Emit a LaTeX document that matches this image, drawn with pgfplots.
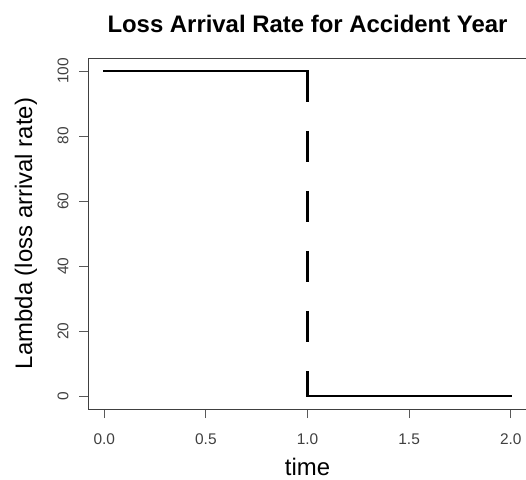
\documentclass[border=0pt]{standalone}
\usepackage{fontspec}
\setmainfont{Liberation Sans}
\usepackage{pgfplots}
\pgfplotsset{compat=1.18}

\begin{document}
\begin{tikzpicture}
% page frame
\path[use as bounding box] (0,0) rectangle (526bp,480bp);
\begin{axis}[
  at={(88bp,71bp)}, anchor=south west,
  scale only axis,
  width=439bp, height=351bp,
  xmin=-0.08, xmax=2.08,
  ymin=-4, ymax=104,
  xtick={0,0.5,1,1.5,2},
  ytick={0,20,40,60,80,100},
  xtick pos=lower, ytick pos=left,
  tick align=outside,
  major tick length=9bp,
  axis line style={black!75, line width=0.8bp},
  every tick/.style={black!65, line width=0.8bp},
  /pgf/number format/assume math mode=true,
  xticklabel shift=12bp,
  yticklabel shift=7bp,
  xticklabel style={font=\fontsize{15.5}{18}\selectfont, text=black!75,
    /pgf/number format/fixed, /pgf/number format/precision=1,
    /pgf/number format/fixed zerofill},
  yticklabel style={font=\fontsize{15.5}{18}\selectfont, text=black!75,
    rotate=90, anchor=south},
  title={Loss Arrival Rate for Accident Year},
  title style={at={(axis description cs:0.5,1.057)}, anchor=base,
    font=\bfseries\fontsize{24}{28}\selectfont},
  xlabel={time},
  xlabel style={at={(axis description cs:0.5,-0.190)}, anchor=base,
    inner sep=0pt, font=\fontsize{24}{28}\selectfont},
  ylabel={Lambda (loss arrival rate)},
  ylabel style={at={(axis description cs:-0.1275,0.5)}, anchor=base,
    rotate=0, font=\fontsize{24}{28}\selectfont},
]
% rate before and after the end of the accident year
\addplot[black, line width=2.6bp, line cap=rect] coordinates {(0,100) (1,100)};
\addplot[black, line width=2.6bp, line cap=butt, dash pattern=on 31bp off 29bp]
  coordinates {(1,100) (1,0)};
\addplot[black, line width=2.6bp, line cap=rect] coordinates {(1,0) (2,0)};
\end{axis}
\end{tikzpicture}
\end{document}
